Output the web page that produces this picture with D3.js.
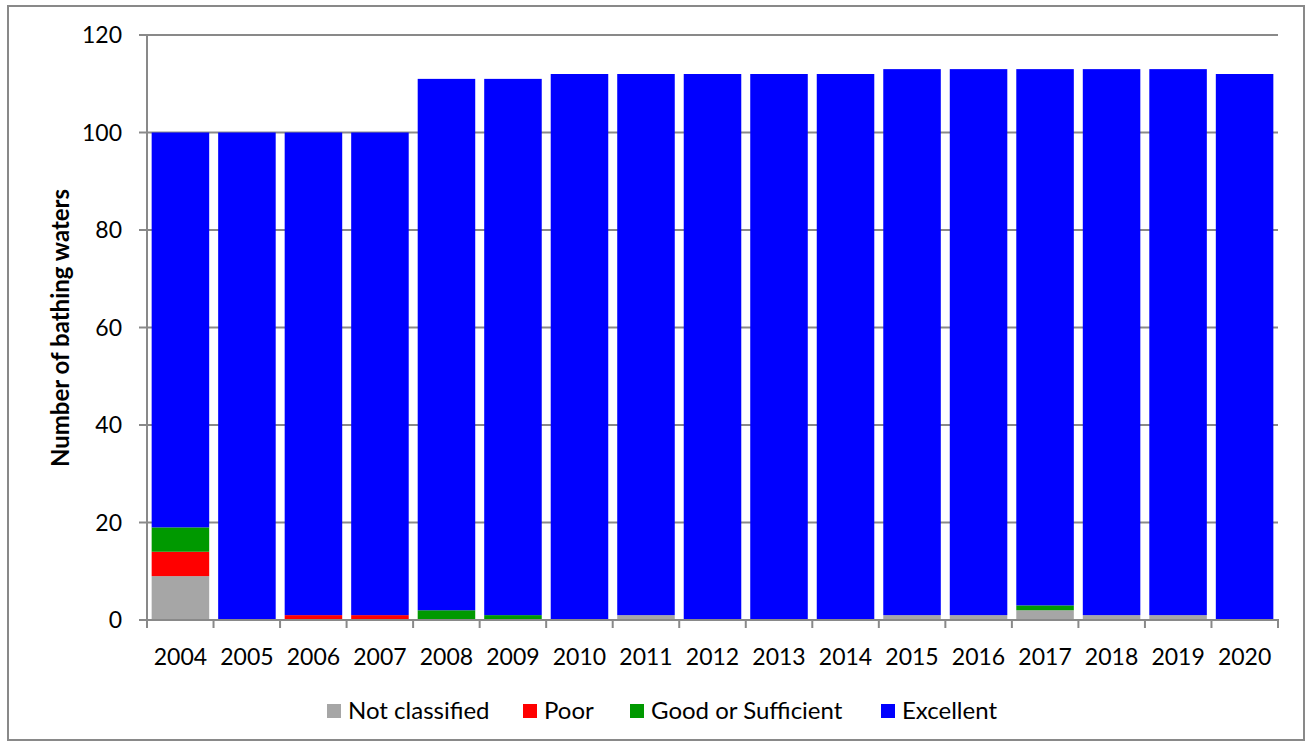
<!DOCTYPE html>
<html><head><meta charset="utf-8">
<script src="https://cdn.jsdelivr.net/npm/d3@7/dist/d3.min.js"></script>
<style>body{margin:0;background:#fff}svg{display:block}</style>
</head><body><svg id="c" width="1309" height="746"></svg>
<script>
const years = ["2004","2005","2006","2007","2008","2009","2010","2011","2012","2013","2014","2015","2016","2017","2018","2019","2020"];
const notClassified = [9,0,0,0,0,0,0,1,0,0,0,1,1,2,1,1,0];
const poor          = [5,0,1,1,0,0,0,0,0,0,0,0,0,0,0,0,0];
const goodOrSuff    = [5,0,0,0,2,1,0,0,0,0,0,0,0,1,0,0,0];
const excellent     = [81,100,99,99,109,110,112,111,112,112,112,112,112,110,112,112,112];
const yTicks = [0,20,40,60,80,100,120];
const seriesNames = ["Not classified","Poor","Good or Sufficient","Excellent"];
const colors = ["#a6a6a6","#ff0000","#009900","#0000ff"];

const svg = d3.select("#c");
const font = "Lato, 'Open Sans', sans-serif";
svg.append("rect").attr("x",8).attr("y",6).attr("width",1296).attr("height",734)
  .attr("fill","#fff").attr("stroke","#898989").attr("stroke-width",2);

const L=147,R=1278,T=35,B=620;
const x = d3.scaleBand().domain(years).range([L,R]).paddingInner(0.135).paddingOuter(0.07);
const y = d3.scaleLinear().domain([0,120]).range([B,T]);

svg.append("g").selectAll("line").data(yTicks).join("line")
  .attr("x1",L-8).attr("x2",R).attr("y1",d=>y(d)).attr("y2",d=>y(d))
  .attr("stroke","#898989").attr("stroke-width",2);

const table = years.map((yr,i)=>({year:yr, "Not classified":notClassified[i], "Poor":poor[i], "Good or Sufficient":goodOrSuff[i], "Excellent":excellent[i]}));
const stack = d3.stack().keys(seriesNames)(table);
svg.append("g").selectAll("g").data(stack).join("g").attr("fill",(d,i)=>colors[i])
  .selectAll("rect").data(d=>d.filter(p=>p[1]-p[0]>0)).join("rect")
  .attr("x",d=>x(d.data.year)).attr("width",x.bandwidth())
  .attr("y",d=>y(d[1])).attr("height",d=>y(d[0])-y(d[1]));

svg.append("line").attr("x1",L).attr("x2",L).attr("y1",T).attr("y2",B+1).attr("stroke","#898989").attr("stroke-width",2);
svg.append("line").attr("x1",L-1).attr("x2",R+1).attr("y1",B).attr("y2",B).attr("stroke","#898989").attr("stroke-width",2);
const bounds = d3.range(years.length+1).map(i=>L+(R-L)*i/years.length);
svg.append("g").selectAll("line").data(bounds).join("line")
  .attr("x1",d=>d).attr("x2",d=>d).attr("y1",B).attr("y2",B+8).attr("stroke","#898989").attr("stroke-width",2);

svg.append("g").selectAll("text").data(yTicks).join("text")
  .attr("x",122).attr("y",d=>y(d)).attr("dy","0.35em").attr("text-anchor","end")
  .attr("font-family",font).attr("font-size",23).attr("fill","#000").text(d=>d);
svg.append("g").selectAll("text").data(years).join("text")
  .attr("x",d=>x(d)+x.bandwidth()/2).attr("y",657).attr("dy","0.35em").attr("text-anchor","middle")
  .attr("font-family",font).attr("font-size",23).attr("fill","#000").text(d=>d);
svg.append("text").attr("transform","translate(61,328) rotate(-90)").attr("text-anchor","middle")
  .attr("dy","0.35em").attr("font-family",font).attr("font-size",24).attr("font-weight","bold").text("Number of bathing waters");

const legX = [327,523,630,881];
const lg = svg.append("g").selectAll("g").data(seriesNames).join("g")
  .attr("transform",(d,i)=>`translate(${legX[i]},711)`);
lg.append("rect").attr("x",0).attr("y",-7).attr("width",14).attr("height",14).attr("fill",(d,i)=>colors[i]);
lg.append("text").attr("x",21).attr("y",0).attr("dy","0.35em").attr("font-family",font).attr("font-size",24).text(d=>d);
</script></body></html>
